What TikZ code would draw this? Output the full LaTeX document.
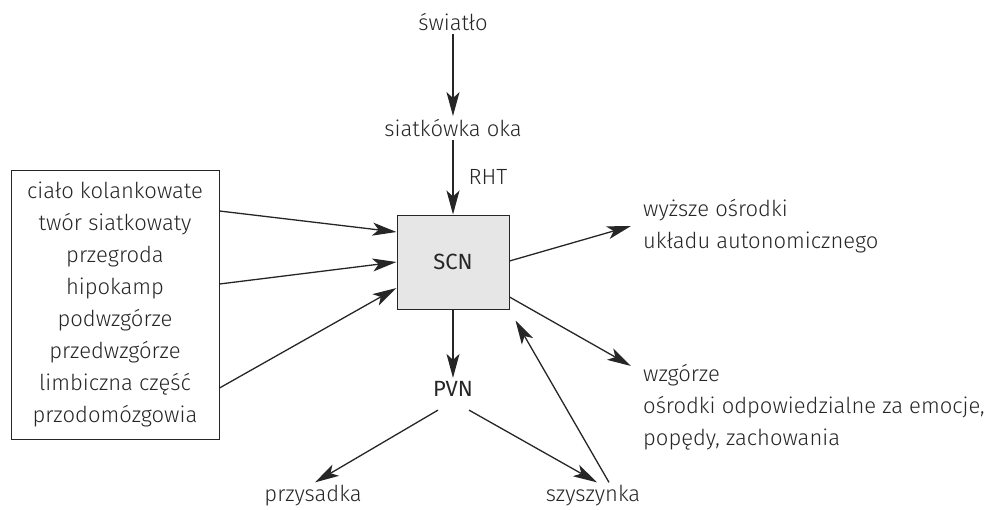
\documentclass[tikz,border=0pt]{standalone}
\usepackage{fontspec}
\setmainfont{Fira Sans Light}
\newfontfamily\regfont{Fira Sans}
\usetikzlibrary{arrows.meta}

\definecolor{ink}{HTML}{262626}
\definecolor{scnfill}{HTML}{E6E6E6}

\tikzset{
    txt/.style={text=ink, font=\fontsize{22}{32}\selectfont, inner sep=3pt},
    bold/.style={text=ink, font=\regfont\fontsize{22}{26}\selectfont},
    arr/.style={draw=ink, line width=1.3pt, -{Stealth[length=24pt, width=13pt, inset=6pt]}}
}

\begin{document}
\begin{tikzpicture}[x=1pt, y=-1pt]
        \useasboundingbox (0,0) rectangle (988,509);

        % Light and retina
        \node[txt] (light) at (453,22) {światło};
        \node[txt] (retina) at (453,128) {siatkówka oka};

        % SCN box
        \node[bold, draw=ink, line width=1pt, fill=scnfill, minimum width=112pt, minimum height=94pt]
            (scn) at (453,262) {SCN};

        % Inputs (left box)
        \node[txt, draw=ink, line width=1pt, align=center, minimum width=208pt, minimum height=269pt]
            (inputs) at (115,304.5) {ciało kolankowate\\twór siatkowaty\\przegroda\\hipokamp\\podwzgórze\\przedwzgórze\\limbiczna część\\przodomózgowia};

        % Outputs (right)
        \node[txt, align=left, anchor=west] (auto) at (640,226) {wyższe ośrodki\\układu autonomicznego};
        \node[txt, align=left, anchor=west] (thal) at (640,407) {wzgórze\\ośrodki odpowiedzialne za emocje,\\popędy, zachowania};

        % PVN and below
        \node[bold] (pvn) at (453,389) {PVN};
        \node[txt] (pit) at (313,496) {przysadka};
        \node[txt] (pin) at (593,496) {szyszynka};

        % Light path
        \draw[arr] (light) -- (retina);
        \draw[arr] (retina) -- (scn) node[txt, midway, right=12pt] {RHT};

        % Into SCN
        \draw[arr] ([yshift=93.5pt]inputs.east) -- ([yshift=30pt]scn.west);
        \draw[arr] ([yshift=20.5pt]inputs.east) -- (scn.west);
        \draw[arr] ([yshift=-83.5pt]inputs.east) -- ([yshift=-26pt]scn.west);

        % Out of SCN
        \draw[arr] ([yshift=1pt]scn.east) -- ([xshift=-9pt]auto.west);
        \draw[arr] ([yshift=-35pt]scn.east) -- ([xshift=-9pt, yshift=41pt]thal.west);
        \draw[arr] (scn) -- (pvn);

        % PVN targets
        \draw[arr] ([xshift=-15pt, yshift=-10pt]pvn.south) -- ([xshift=2pt]pit.north);
        \draw[arr] ([xshift=16pt, yshift=-10pt]pvn.south) -- ([xshift=4pt]pin.north);

        % Feedback
        \draw[arr] ([xshift=16pt]pin.north) -- ([xshift=6pt, yshift=-11pt]scn.south east);

     \end{tikzpicture}
\end{document}
